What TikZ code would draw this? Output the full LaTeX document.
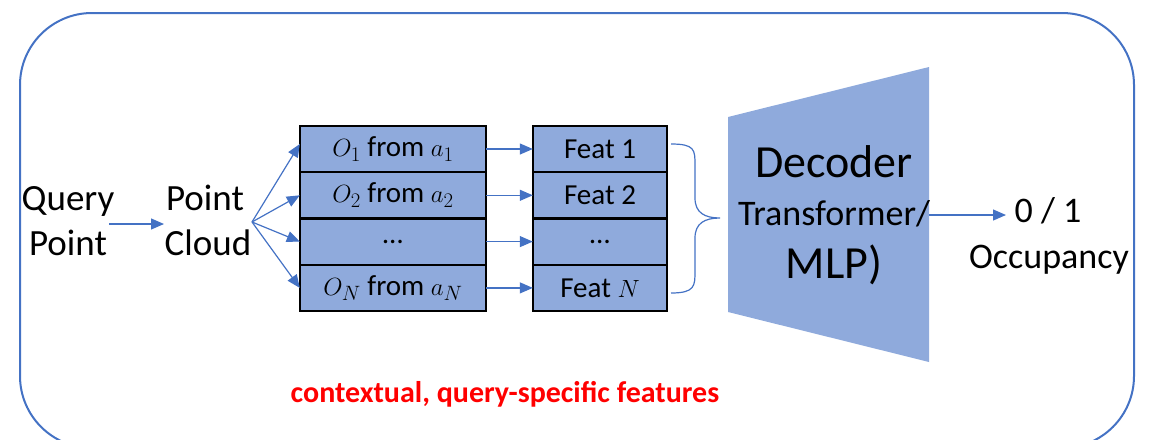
\documentclass[tikz,border=0pt]{standalone}
\usepackage{fontspec}
\setmainfont{Carlito}
\usetikzlibrary{arrows.meta}
\definecolor{frameblue}{RGB}{68,114,196}
\definecolor{boxfill}{RGB}{143,170,220}
\definecolor{hotred}{RGB}{255,0,0}
\tikzset{
  flow/.style={draw=frameblue, line width=1.2pt, -{Triangle[length=13pt,width=11pt]}},
  cell/.style={fill=boxfill, minimum height=46.3pt, inner sep=0pt, font=\fontsize{29}{34}\selectfont},
  celledge/.style={draw=black, line width=1.8pt},
  lbl/.style={inner sep=0pt, align=center},
}
\begin{document}
\begin{tikzpicture}[x=1pt, y=-1pt]
\useasboundingbox (0,0) rectangle (1151,439);
% outer frame, running past the lower edge
\begin{scope}
  \clip (0,0) rectangle (1151,439);
  \draw[frameblue, line width=2pt, rounded corners=72pt] (20,13) rectangle (1134,448);
\end{scope}

% inputs
\node[lbl, font=\fontsize{37}{45}\selectfont, anchor=base] (q1) at (68,210) {Query};
\node[lbl, font=\fontsize{37}{45}\selectfont, anchor=base] (q2) at (68,255) {Point};
\node[lbl, font=\fontsize{37}{45}\selectfont, anchor=base] (p1) at (205,210) {Point};
\node[lbl, font=\fontsize{37}{45}\selectfont, anchor=base] (p2) at (208,255) {Cloud};
\coordinate (qa) at (109,224);
\coordinate (pa) at (164,224);
\draw[flow] (qa) -- (pa);
\coordinate (fan) at (252,222);

% object rows
\node[cell, minimum width=186pt] (o1) at (393,149) {$O_1$ from $a_1$};
\node[cell, minimum width=186pt] (o2) at (393,195.3) {$O_2$ from $a_2$};
\node[cell, minimum width=186pt] (o3) at (393,241.6) {…};
\node[cell, minimum width=186pt] (o4) at (393,287.9) {$O_N$ from $a_N$};

% feature rows
\node[cell, minimum width=134pt] (f1) at (600,149) {Feat 1};
\node[cell, minimum width=134pt] (f2) at (600,195.3) {Feat 2};
\node[cell, minimum width=134pt] (f3) at (600,241.6) {…};
\node[cell, minimum width=134pt] (f4) at (600,287.9) {Feat $N$};

% outlines go on top so shared edges keep their full width
\foreach \i in {1,...,4} {
  \draw[celledge] (o\i.north west) rectangle (o\i.south east);
  \draw[celledge] (f\i.north west) rectangle (f\i.south east);
}

\draw[flow] (fan) -- ([yshift=5pt]o1.west);
\draw[flow] (fan) -- (o2.west);
\draw[flow] (fan) -- (o3.west);
\draw[flow] (fan) -- (o4.west);
\foreach \i in {1,...,4} \draw[flow] (o\i.east) -- (f\i.east -| f\i.west);

% brace grouping the features
\coordinate (bt) at (671,144);
\coordinate (bb) at (671,293);
\draw[frameblue, line width=1.2pt] (bt) .. controls (695,144) and (695,150) .. (695,165)
  -- (695,198) .. controls (695,213) and (705,218) .. (720,218)
  .. controls (705,218) and (695,223) .. (695,238)
  -- (695,271) .. controls (695,286) and (695,293) .. (bb);

% decoder
\fill[boxfill] (728,117) -- (929,67) -- (929,362) -- (728,312) -- cycle;
\node[lbl, font=\fontsize{46}{50}\selectfont, anchor=base] (dec) at (834,177) {Decoder};
\node[lbl, font=\fontsize{36}{40}\selectfont, anchor=base] (tr) at (834,225) {Transformer/};
\node[lbl, font=\fontsize{46}{50}\selectfont, anchor=base] (mlp) at (834,278) {MLP)};
\coordinate (da) at (929,215);

% output
\node[lbl, font=\fontsize{36}{40}\selectfont, anchor=base] (out) at (1048,222) {0 / 1};
\node[lbl, font=\fontsize{36}{40}\selectfont, anchor=base] (occ) at (1049,268) {Occupancy};
\coordinate (oa) at (1006,215);
\draw[flow] (da) -- (oa);

% caption
\node[lbl, font=\fontsize{30}{34}\selectfont\bfseries, text=hotred, anchor=base] (cap) at (505,402) {contextual, query-specific features};
\end{tikzpicture}
\end{document}
